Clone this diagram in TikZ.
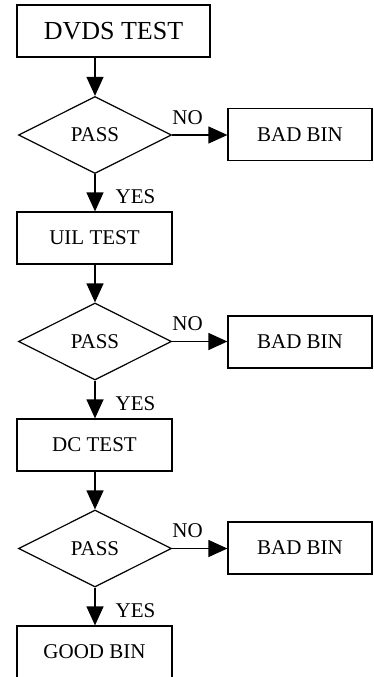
\documentclass[tikz,border=0pt]{standalone}
\usepackage{fontspec}
\setmainfont{Liberation Serif}
\usepackage{tikz}
\usetikzlibrary{arrows.meta, positioning, shapes.geometric}

\begin{document}
\begin{tikzpicture}[x=1pt, y=-1pt, line width=1.2pt,
    box/.style={draw, rectangle, inner sep=0pt, minimum height=52pt, font=\fontsize{21}{24}\selectfont},
    test/.style={box, minimum width=155pt},
    bin/.style={box, minimum width=144pt},
    pass/.style={draw, diamond, inner sep=0pt, minimum width=153pt, minimum height=77pt, font=\fontsize{21}{24}\selectfont},
    flow/.style={-{Triangle[length=19pt, width=17pt]}},
    tag/.style={inner sep=0pt, font=\fontsize{21}{24}\selectfont}]
    \useasboundingbox (0,0) rectangle (373,677);

    % Test steps
    \node[box, minimum width=193pt, font=\fontsize{26}{30}\selectfont] (dvds) at (113.5,31) {DVDS TEST};
    \node[pass] (pass1) at (95,135) {PASS};
    \node[bin] (bad1) at (300,134.5) {BAD BIN};
    \node[test] (uil) at (94.5,238) {UIL TEST};
    \node[pass] (pass2) at (95,341.5) {PASS};
    \node[bin] (bad2) at (300,342) {BAD BIN};
    \node[test] (dc) at (94.5,445) {DC TEST};
    \node[pass] (pass3) at (95,548.5) {PASS};
    \node[bin] (bad3) at (300,548) {BAD BIN};
    \node[test] (good) at (94.5,652) {GOOD BIN};

    % Down the flow
    \draw[flow] (pass1.north |- dvds.south) -- (pass1.north);
    \draw[flow] (pass1.south) -- (pass1.south |- uil.north) node[tag, pos=0.6, right=20pt] {YES};
    \draw[flow] (pass2.north |- uil.south) -- (pass2.north);
    \draw[flow] (pass2.south) -- (pass2.south |- dc.north) node[tag, pos=0.6, right=20pt] {YES};
    \draw[flow] (pass3.north |- dc.south) -- (pass3.north);
    \draw[flow] (pass3.south) -- (pass3.south |- good.north) node[tag, pos=0.6, right=20pt] {YES};

    % Fail branches
    \draw[flow] (pass1.east) -- (bad1.west |- pass1.east) node[tag, pos=0.28, above=10pt] {NO};
    \draw[flow] (pass2.east) -- (bad2.west |- pass2.east) node[tag, pos=0.28, above=10pt] {NO};
    \draw[flow] (pass3.east) -- (bad3.west |- pass3.east) node[tag, pos=0.28, above=10pt] {NO};
\end{tikzpicture}
\end{document}
